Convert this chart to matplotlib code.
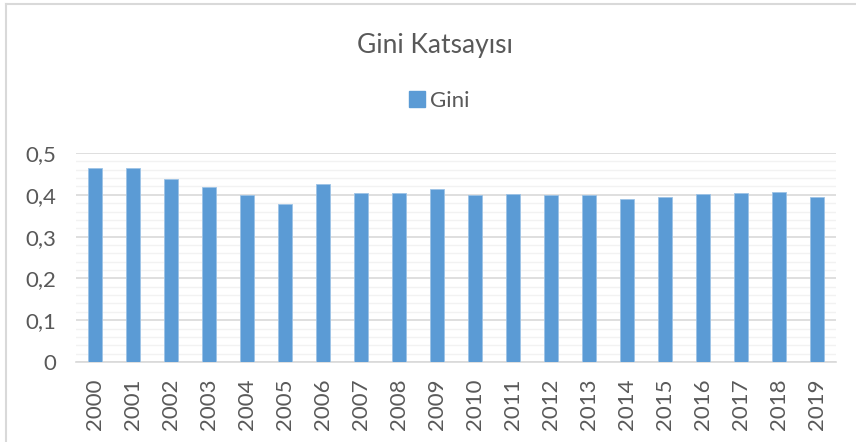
import matplotlib.pyplot as plt
from matplotlib.ticker import MultipleLocator, FuncFormatter
from matplotlib.lines import Line2D

years = [str(y) for y in range(2000, 2020)]
gini = [0.464, 0.464, 0.438, 0.418, 0.399, 0.378, 0.427, 0.404, 0.404, 0.413,
        0.400, 0.403, 0.400, 0.399, 0.390, 0.394, 0.403, 0.404, 0.406, 0.394]

plt.rcParams['font.family'] = ['Lato', 'DejaVu Sans']
grey = '#595959'
blue = '#5B9BD5'

fig = plt.figure(figsize=(8.56, 4.42), dpi=100)
ax = fig.add_axes([76/856, 1-362/442, (836-76)/856, (362-153)/442])

x = range(len(years))
ax.bar(x, gini, width=0.37, color=blue, edgecolor='#9DC3E6', linewidth=0.6, zorder=3, label='Gini')

ax.set_ylim(0, 0.5)
ax.set_xlim(-0.5, len(years) - 0.5)
ax.yaxis.set_major_locator(MultipleLocator(0.1))
ax.yaxis.set_minor_locator(MultipleLocator(0.02))
ax.yaxis.set_major_formatter(FuncFormatter(lambda v, p: ('%g' % round(v, 2)).replace('.', ',')))
ax.grid(axis='y', which='major', color='#D9D9D9', linewidth=1.2, zorder=0)
ax.grid(axis='y', which='minor', color='#F2F2F2', linewidth=1.0, zorder=0)
ax.set_xticks(list(x))
ax.set_xticklabels(years, rotation=90)
ax.tick_params(axis='both', which='both', length=0, labelsize=16, colors=grey)
ax.tick_params(axis='x', pad=12)
ax.tick_params(axis='y', pad=14)
for s in ['top', 'right', 'left']:
    ax.spines[s].set_visible(False)
ax.spines['bottom'].set_color('#D9D9D9')
ax.spines['bottom'].set_linewidth(1.2)

fig.text(0.508, 1-46/442, 'Gini Katsayısı', ha='center', va='center', fontsize=19, color=grey)
handle = Line2D([], [], marker='s', linestyle='none', markersize=11, color=blue)
fig.legend([handle], ['Gini'], loc='center', bbox_to_anchor=(0.511, 1-101/442), frameon=False,
           fontsize=16, labelcolor=grey, handletextpad=0.1, handlelength=1.0)

# chart border (top and left visible)
fig.add_artist(Line2D([6/856, 1], [1-4/442, 1-4/442], color='#D9D9D9', linewidth=1.5))
fig.add_artist(Line2D([6/856, 6/856], [0, 1-4/442], color='#D9D9D9', linewidth=1.5))

fig.savefig('out.png', dpi=100)
